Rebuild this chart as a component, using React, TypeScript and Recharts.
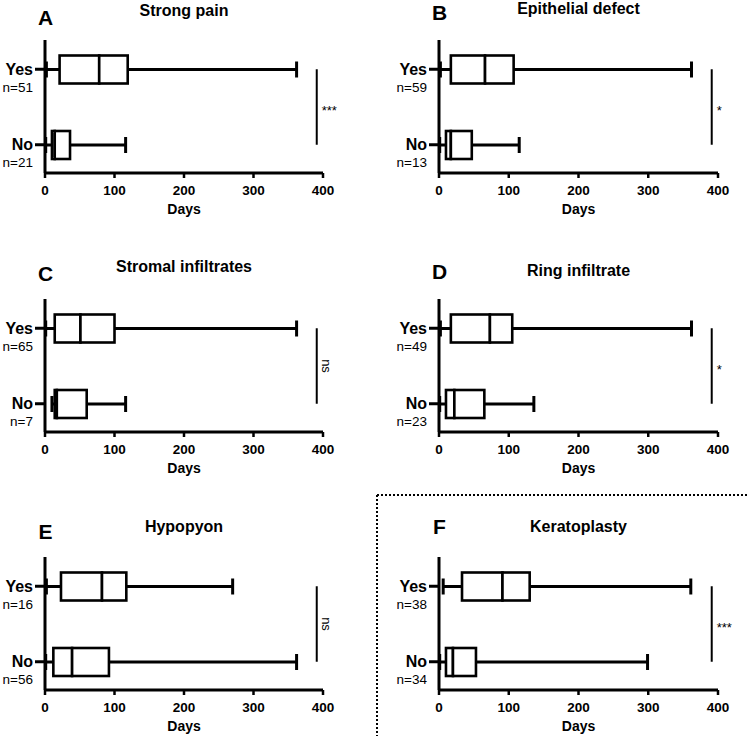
import { Bar, BarChart, Label, ReferenceLine, XAxis, YAxis } from "recharts";

const FONT = "'Liberation Sans', Arial, Helvetica, sans-serif";

const GROUPS = ["Yes", "No"];
const LETTERS = ["A", "B", "C", "D", "E", "F"];
const TITLES = [
  "Strong pain",
  "Epithelial defect",
  "Stromal infiltrates",
  "Ring infiltrate",
  "Hypopyon",
  "Keratoplasty",
];
const COUNTS = [
  [51, 21],
  [59, 13],
  [65, 7],
  [49, 23],
  [16, 56],
  [38, 34],
];
const SIGNIF = ["***", "*", "ns", "*", "ns", "***"];

// [min, q1, median, q3, max] in days, Yes then No
const STATS_A = [
  [2, 21, 78, 119, 362],
  [1, 10, 14, 36, 116],
];
const STATS_B = [
  [2, 17, 66, 107, 362],
  [1, 10, 17, 47, 115],
];
const STATS_C = [
  [1, 14, 51, 100, 362],
  [10, 14, 17, 60, 116],
];
const STATS_D = [
  [2, 17, 73, 105, 362],
  [1, 10, 22, 65, 136],
];
const STATS_E = [
  [2, 23, 82, 117, 270],
  [1, 12, 39, 92, 362],
];
const STATS_F = [
  [6, 33, 91, 130, 361],
  [1, 10, 20, 53, 299],
];
const PANEL_STATS = [STATS_A, STATS_B, STATS_C, STATS_D, STATS_E, STATS_F];

const X_TICKS = [0, 100, 200, 300, 400];
const SIG_X = 391;

// layout
const COL_LEFT = [0, 394];
const COL_WIDTH = [375, 354];
const COL_RIGHT = [52, 30];
const ROW_TOP = [0, 259, 517];
const CHART_H = 218;
const TITLE_Y = [11, 9, 267, 271, 527, 527];
const LETTER_Y = [17, 12, 273, 271, 531, 526];

type Row = {
  group: string;
  n: number;
  min: number;
  q1: number;
  median: number;
  q3: number;
  max: number;
};

function makeRows(i: number): Row[] {
  return GROUPS.map((g, j) => {
    const s = PANEL_STATS[i][j];
    return { group: g, n: COUNTS[i][j], min: s[0], q1: s[1], median: s[2], q3: s[3], max: s[4] };
  });
}

function LowWhisker(p: any) {
  const cy = p.y + p.height / 2;
  return (
    <g>
      <line x1={p.x} x2={p.x + p.width} y1={cy} y2={cy} stroke="#000" strokeWidth={3} />
      <line x1={p.x} x2={p.x} y1={cy - 8} y2={cy + 8} stroke="#000" strokeWidth={3} />
    </g>
  );
}

function HighWhisker(p: any) {
  const cy = p.y + p.height / 2;
  const ex = p.x + p.width;
  return (
    <g>
      <line x1={p.x} x2={ex} y1={cy} y2={cy} stroke="#000" strokeWidth={3} />
      <line x1={ex} x2={ex} y1={cy - 8} y2={cy + 8} stroke="#000" strokeWidth={3} />
    </g>
  );
}

function BoxPart(p: any) {
  return <rect x={p.x} y={p.y} width={p.width} height={p.height} fill="#fff" stroke="#000" strokeWidth={2.6} />;
}

function GroupTick(props: any) {
  const { x, y, payload, counts } = props;
  const idx = GROUPS.indexOf(payload.value);
  return (
    <g fontFamily={FONT} fill="#000">
      <text x={x} y={y} textAnchor="end" dominantBaseline="central" fontSize={16} fontWeight={700}>
        {payload.value}
      </text>
      <text x={x} y={y + 18} textAnchor="end" dominantBaseline="central" fontSize={13.5}>
        n={counts[idx]}
      </text>
    </g>
  );
}

function SigLabel(props: any) {
  const vb = props.viewBox || {};
  const x = vb.x ?? vb.x1 ?? 0;
  const y = vb.y ?? vb.y1 ?? 0;
  const w = vb.width ?? 0;
  const h = vb.height ?? (vb.y2 != null ? vb.y2 - vb.y1 : 0);
  const cy = y + h / 2;
  if (props.text === "ns") {
    const cx = x + w + 10;
    return (
      <text
        x={cx}
        y={cy}
        transform={`rotate(90, ${cx}, ${cy})`}
        textAnchor="middle"
        dominantBaseline="central"
        fontSize={13}
        fontFamily={FONT}
        fill="#000"
      >
        ns
      </text>
    );
  }
  return (
    <text x={x + w + 5} y={cy + 8} textAnchor="start" fontSize={13} fontFamily={FONT} fill="#000">
      {props.text}
    </text>
  );
}

function Panel({ i }: { i: number }) {
  const col = i % 2;
  const row = Math.floor(i / 2);
  const left = COL_LEFT[col];
  const width = COL_WIDTH[col];
  const top = ROW_TOP[row];
  const plotLeft = left + 45;
  const plotRight = left + width - COL_RIGHT[col];
  const data = makeRows(i);

  return (
    <>
      <div
        style={{
          position: "absolute",
          left: plotLeft + 0.5,
          top: LETTER_Y[i],
          transform: "translate(-50%, -50%)",
          fontFamily: FONT,
          fontWeight: 700,
          fontSize: 21,
          lineHeight: 1,
        }}
      >
        {LETTERS[i]}
      </div>
      <div
        style={{
          position: "absolute",
          left: (plotLeft + plotRight) / 2,
          top: TITLE_Y[i],
          transform: "translate(-50%, -50%)",
          fontFamily: FONT,
          fontWeight: 700,
          fontSize: 16,
          lineHeight: 1,
          whiteSpace: "nowrap",
        }}
      >
        {TITLES[i]}
      </div>
      <div style={{ position: "absolute", left, top }}>
        <BarChart
          width={width}
          height={CHART_H}
          data={data}
          layout="vertical"
          barSize={28}
          margin={{ top: 40, right: COL_RIGHT[col], bottom: 0, left: 0 }}
        >
          <XAxis
            type="number"
            domain={[0, 400]}
            ticks={X_TICKS}
            height={45}
            tickSize={5}
            tickMargin={7}
            axisLine={{ stroke: "#000", strokeWidth: 3 }}
            tickLine={{ stroke: "#000", strokeWidth: 2.5 }}
            tick={{ fill: "#000", fontSize: 13.5, fontWeight: 700, fontFamily: FONT }}
          >
            <Label
              value="Days"
              position="insideBottom"
              offset={4}
              style={{ fill: "#000", fontSize: 14, fontWeight: 700, fontFamily: FONT }}
            />
          </XAxis>
          <YAxis
            type="category"
            dataKey="group"
            width={45}
            tickSize={10}
            tickMargin={2}
            padding={{ top: -8.5, bottom: -9.5 }}
            axisLine={{ stroke: "#000", strokeWidth: 3 }}
            tickLine={{ stroke: "#000", strokeWidth: 3 }}
            tick={<GroupTick counts={COUNTS[i]} />}
          />
          <Bar dataKey={(d: Row) => d.min} stackId="s" fill="none" isAnimationActive={false} />
          <Bar dataKey={(d: Row) => d.q1 - d.min} stackId="s" shape={LowWhisker} isAnimationActive={false} />
          <Bar dataKey={(d: Row) => d.median - d.q1} stackId="s" shape={BoxPart} isAnimationActive={false} />
          <Bar dataKey={(d: Row) => d.q3 - d.median} stackId="s" shape={BoxPart} isAnimationActive={false} />
          <Bar dataKey={(d: Row) => d.max - d.q3} stackId="s" shape={HighWhisker} isAnimationActive={false} />
          <ReferenceLine
            segment={[
              { x: SIG_X, y: GROUPS[0] },
              { x: SIG_X, y: GROUPS[1] },
            ]}
            stroke="#000"
            strokeWidth={2}
            label={<SigLabel text={SIGNIF[i]} />}
          />
        </BarChart>
      </div>
    </>
  );
}

export default function App() {
  return (
    <div style={{ position: "absolute", left: 0, top: 0, width: 749, height: 736, background: "#fff" }}>
      {LETTERS.map((_, i) => (
        <Panel key={i} i={i} />
      ))}
      <svg
        width={749}
        height={736}
        style={{ position: "absolute", left: 0, top: 0, pointerEvents: "none" }}
      >
        <line x1={377} x2={749} y1={495} y2={495} stroke="#000" strokeWidth={2} strokeDasharray="2 2" />
        <line x1={377} x2={377} y1={495} y2={736} stroke="#000" strokeWidth={2} strokeDasharray="2 2" />
      </svg>
    </div>
  );
}
